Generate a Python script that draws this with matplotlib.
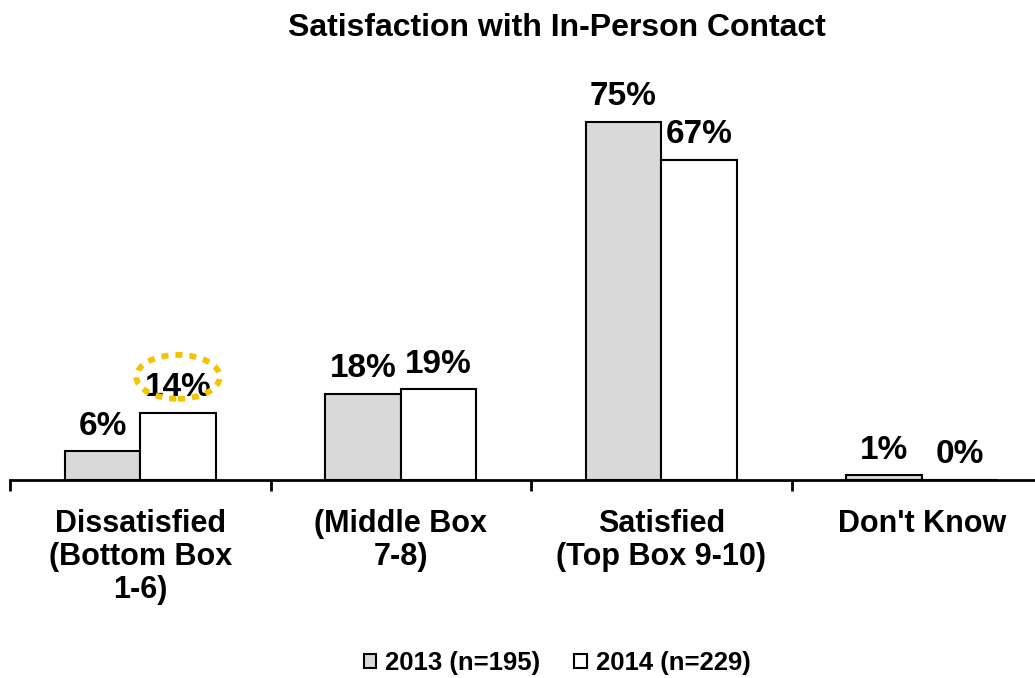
import matplotlib.pyplot as plt
import numpy as np
from matplotlib.patches import Ellipse

plt.rcParams['font.family'] = ['Liberation Sans', 'DejaVu Sans']
plt.rcParams['font.weight'] = 'bold'

categorias = ['Dissatisfied\n(Bottom Box\n1-6)', '(Middle Box\n7-8)',
              'Satisfied\n(Top Box 9-10)', "Don't Know"]
valores_2013 = [6, 18, 75, 1]
valores_2014 = [14, 19, 67, 0]
series = ['2013 (n=195)', '2014 (n=229)']
cores = ['#d9d9d9', '#ffffff']

fig = plt.figure(figsize=(10.35, 6.78), dpi=100)
ax = fig.add_axes([10 / 1035, 198 / 678, 1042 / 1035, 382 / 678])

x = np.arange(len(categorias))
largura = 0.29
barras = []
for i, (vals, cor) in enumerate(zip([valores_2013, valores_2014], cores)):
    pos = x + (i - 0.5) * largura
    b = ax.bar(pos, vals, largura, color=cor, edgecolor='black', linewidth=1.5,
               label=series[i], zorder=2)
    barras.append(b)
    for p, v in zip(pos, vals):
        ax.annotate(f'{v}%', (p, v), xytext=(0, 7), textcoords='offset points',
                    ha='center', va='bottom', fontsize=24, fontweight='bold')

# destaque pontilhado no valor de 2014 dos insatisfeitos
ax.add_patch(Ellipse((x[0] + 0.5 * largura, valores_2014[0] + 7.6), 0.32, 9.2,
                     fill=False, edgecolor='#f5c400', linewidth=4.2,
                     linestyle=(0, (1.2, 1.2)), zorder=3, clip_on=False))

ax.set_xlim(-0.5, len(categorias) - 0.5)
ax.set_ylim(0, 80)
ax.set_yticks([])
for lado in ['top', 'right', 'left']:
    ax.spines[lado].set_visible(False)
ax.spines['bottom'].set_linewidth(2)
ax.set_xticks(np.arange(len(categorias) + 1) - 0.5, minor=True)
ax.set_xticks(x)
ax.set_xticklabels(categorias, fontsize=22, fontweight='bold', linespacing=1.12)
ax.tick_params(axis='x', which='major', length=0, pad=21)
ax.tick_params(axis='x', which='minor', length=8, width=2, direction='out')

fig.text(557 / 1035, 1 - 28 / 678, 'Satisfaction with In-Person Contact',
         ha='center', va='center', fontsize=23, fontweight='bold')

fig.legend(handles=barras, labels=series, loc='center', ncol=2,
           bbox_to_anchor=(557 / 1035, 1 - 663 / 678), frameon=False,
           prop={'size': 18.5, 'weight': 'bold'}, handlelength=0.5,
           handleheight=0.5, handletextpad=0.35, columnspacing=1.3)

fig.savefig('out.png', dpi=100)
